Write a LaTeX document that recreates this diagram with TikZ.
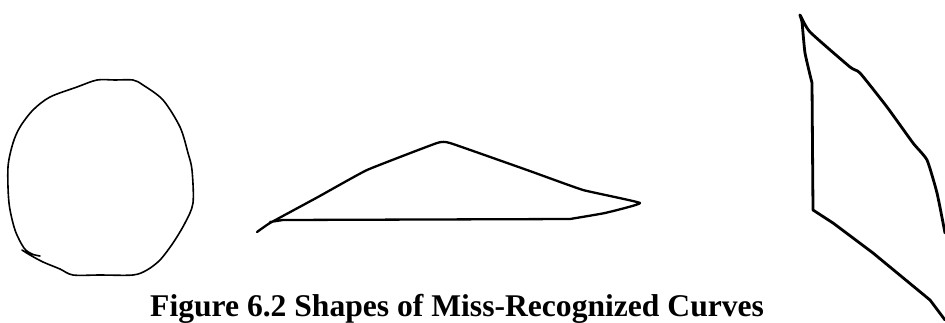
\documentclass[tikz,border=0pt]{standalone}
\usepackage{fontspec}
\setmainfont{Liberation Serif}
\begin{document}
\begin{tikzpicture}[x=1pt,y=-1pt,
  stroke/.style={line width=#1,line join=round,line cap=round,black},
  caption/.style={font=\fontsize{31.6}{34}\selectfont\bfseries,inner sep=0pt,anchor=base west}]
\useasboundingbox (0,0) rectangle (945,322);
% circle-like curve
\draw[stroke=1.6pt] plot[smooth,tension=0.5] coordinates {
 (22,250) (30,255) (43,262) (60,269) (73,275) (100,275) (133,275) (147,270) (160,260)
 (173,243) (185,223) (193,203) (192,170) (188,153) (180,127) (163,100) (143,85)
 (133,80) (115,80) (97,80) (77,87) (50,97) (33,110) (20,127) (13,143) (8,167)
 (9,203) (15,230) (24,248) (32,254) (40,256)};
% triangle-like curve
\draw[stroke=2.3pt] plot[smooth,tension=0.2] coordinates {
 (257,232) (270,223) (318,197) (367,170) (437,143) (450,143) (527,170) (583,190) (640,203)
 (605,213) (570,219)} -- (283,220) -- (270,222);
% polygon-like curve
\draw[stroke=2.8pt] plot[smooth,tension=0.3] coordinates {
 (945,233) (937,193) (927,160) (913,143) (887,107) (860,73) (850,67) (810,32) (800,15)
 (802,22) (805,53) (812,83)} -- (813,210) -- (833,223) -- (873,253) -- (930,300) -- (945,320);
\node[caption] (cap) at (150,316) {Figure 6.2 Shapes of Miss-Recognized Curves};
\end{tikzpicture}
\end{document}
